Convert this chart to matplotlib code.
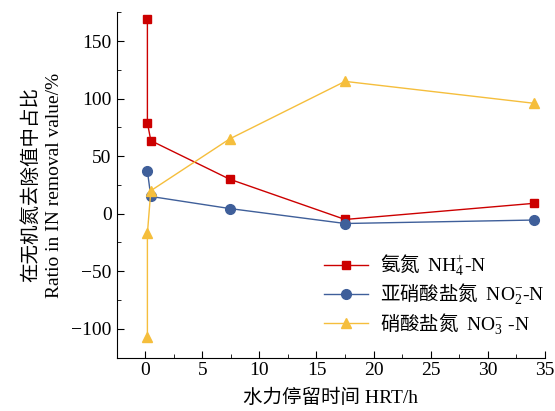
import matplotlib
matplotlib.use("Agg")
import matplotlib.pyplot as plt
from matplotlib.ticker import MultipleLocator

plt.rcParams['font.family'] = ['Liberation Serif', 'Noto Sans CJK SC']
plt.rcParams['mathtext.fontset'] = 'custom'
plt.rcParams['mathtext.rm'] = 'Liberation Serif'
plt.rcParams['mathtext.it'] = 'Liberation Serif:italic'
plt.rcParams['mathtext.bf'] = 'Liberation Serif:bold'
plt.rcParams['axes.unicode_minus'] = True

# 水力停留时间 / 各形态氮占比
hrt_nh4 = [0.2, 0.2, 0.5, 7.4, 17.5, 34]
nh4 = [169, 79, 63.5, 30, -5, 9]
hrt_no2 = [0.2, 0.5, 7.4, 17.5, 34]
no2 = [37, 15, 4.5, -8.5, -5.5]
hrt_no3 = [0.2, 0.2, 0.5, 7.4, 17.5, 34]
no3 = [-107, -17, 20, 65, 115, 96]

labels = ['氨氮  $\\mathrm{NH}_4^{+}\\text{-N}$',
          '亚硝酸盐氮  $\\mathrm{NO}_2^{-}\\text{-N}$',
          '硝酸盐氮  $\\mathrm{NO}_3^{-}\\text{ -N}$']

fig, ax = plt.subplots(figsize=(5.55, 4.11), dpi=100)

ax.plot(hrt_nh4, nh4, color='#CC0000', marker='s', ms=6, lw=1, label=labels[0])
ax.plot(hrt_no2, no2, color='#3F5F9A', marker='o', ms=7, lw=1, label=labels[1])
ax.plot(hrt_no3, no3, color='#F5BE3C', marker='^', ms=7, lw=1, label=labels[2])

ax.set_xlim(-2.5, 35)
ax.set_ylim(-125, 175)
ax.xaxis.set_major_locator(MultipleLocator(5))
ax.xaxis.set_minor_locator(MultipleLocator(2.5))
ax.yaxis.set_major_locator(MultipleLocator(50))
ax.yaxis.set_minor_locator(MultipleLocator(25))
ax.tick_params(which='both', direction='in', labelsize=14)
ax.tick_params(which='major', length=5)
ax.tick_params(which='minor', length=3)
ax.spines['top'].set_visible(False)
ax.spines['right'].set_visible(False)

ax.set_xlabel('水力停留时间 HRT/h', fontsize=14, labelpad=7)
ax.set_ylabel('在无机氮去除值中占比\nRatio in IN removal value/%', fontsize=14,
              linespacing=1.45, labelpad=6)

ax.legend(loc='lower right', bbox_to_anchor=(1.04, 0.01), frameon=False,
          prop={'family': 'Noto Sans CJK SC', 'size': 14},
          handlelength=2.3, labelspacing=0.2, handletextpad=0.6)

fig.subplots_adjust(left=0.21, right=0.982, top=0.97, bottom=0.13)
fig.savefig('out.png', dpi=100)
